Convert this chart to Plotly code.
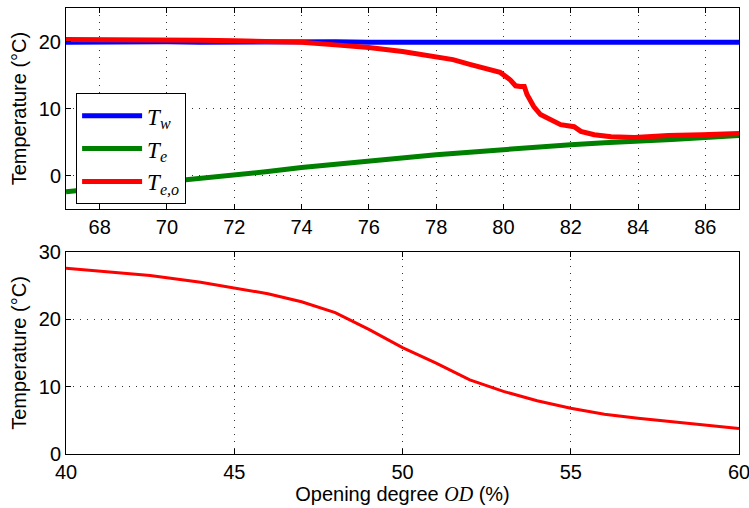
import plotly.graph_objects as go
from plotly.subplots import make_subplots

# Top panel data (opening degree vs temperatures)
od_top = [67, 68, 69, 70, 71, 72, 73, 74, 75, 76, 77, 78, 78.5, 79, 79.5, 79.9,
          80.2, 80.36, 80.5, 80.62, 80.7, 80.9, 81.1, 81.4, 81.7, 82.1, 82.3,
          82.7, 83.2, 83.9, 84.9, 85.9, 87]
t_w = [19.9, 19.95, 19.9, 19.95, 19.9, 19.95, 19.9, 19.9, 19.95, 19.9, 19.9, 19.95, 19.9,
       19.9, 19.95, 19.9, 19.9, 19.95, 19.9, 19.9, 19.95, 19.9, 19.9, 19.95, 19.9,
       19.9, 19.95, 19.9, 19.9, 19.95, 19.9, 19.9, 19.9]
t_eo = [20.3, 20.3, 20.3, 20.3, 20.2, 20.1, 20.0, 19.9, 19.5, 19.1, 18.5, 17.8, 17.3,
        16.6, 16.0, 15.4, 14.3, 13.4, 13.3, 13.3, 12.1, 10.3, 9.1, 8.4, 7.6, 7.3,
        6.6, 6.1, 5.8, 5.7, 6.0, 6.1, 6.3]
od_te = [67, 68, 69, 70, 71, 72, 73, 74, 75, 76, 77, 78, 79, 80, 81, 82, 83, 84, 85, 86, 87]
t_e = [-2.4, -1.9, -1.4, -0.9, -0.4, 0.0, 0.6, 1.2, 1.7, 2.2, 2.7, 3.1, 3.5, 3.9,
       4.3, 4.6, 4.9, 5.1, 5.4, 5.7, 6.0]

# Bottom panel data
od_bot = [40, 41, 42.5, 44, 45, 46, 47, 48, 49, 50, 51, 52, 53, 54, 55, 56, 57, 58, 59, 60]
t_bot = [27.6, 27.2, 26.5, 25.5, 24.7, 23.8, 22.6, 21.0, 18.5, 15.8, 13.5, 11.0, 9.3,
         7.9, 6.8, 5.9, 5.3, 4.8, 4.3, 3.8]

top_ticks = [68, 70, 72, 74, 76, 78, 80, 82, 84, 86]
bot_ticks = [40, 45, 50, 55, 60]

fig = make_subplots(rows=2, cols=1)

fig.add_trace(go.Scatter(x=od_top, y=t_w, mode="lines", line=dict(color="#0000FF", width=5),
                         name="<i>T</i><sub><i>w</i></sub>"), row=1, col=1)
fig.add_trace(go.Scatter(x=od_te, y=t_e, mode="lines", line=dict(color="#008000", width=5),
                         name="<i>T</i><sub><i>e</i></sub>"), row=1, col=1)
fig.add_trace(go.Scatter(x=od_top, y=t_eo, mode="lines", line=dict(color="#FF0000", width=5),
                         name="<i>T</i><sub><i>e,o</i></sub>"), row=1, col=1)
fig.add_trace(go.Scatter(x=od_bot, y=t_bot, mode="lines", line=dict(color="#FF0000", width=3),
                         showlegend=False), row=2, col=1)

axis_common = dict(showline=True, linecolor="black", linewidth=1, mirror="ticks",
                   ticks="inside", ticklen=5, tickcolor="black", showgrid=True,
                   gridcolor="#333333", griddash="1px,6px", gridwidth=1, zeroline=False,
                   automargin=False, ticklabeloverflow="allow",
                   tickfont=dict(size=20, color="black"))
ytitle = dict(text="Temperature (°C)", font=dict(size=20, color="black"), standoff=6)

fig.update_xaxes(range=[67, 87], tickvals=top_ticks, domain=[0, 1], row=1, col=1, **axis_common)
fig.update_yaxes(range=[-5, 25], tickvals=[0, 10, 20], domain=[0.549, 1], row=1, col=1,
                 title=ytitle, **axis_common)
fig.update_xaxes(range=[40, 60], tickvals=bot_ticks, domain=[0, 1], row=2, col=1,
                 title=dict(text="Opening degree <span style=\"font-family:'Liberation Serif'\"><i>OD</i></span> (%)",
                            font=dict(size=20, color="black"), standoff=2),
                 **axis_common)
fig.update_yaxes(range=[0, 30], tickvals=[0, 10, 20, 30], domain=[0, 0.453], row=2, col=1,
                 title=ytitle, **axis_common)

fig.update_layout(
    width=749, height=508,
    margin=dict(l=66, r=10, t=8, b=54),
    paper_bgcolor="white", plot_bgcolor="white",
    font=dict(family="Liberation Sans, Arial, sans-serif", color="black"),
    showlegend=True,
    legend=dict(x=0.015, y=0.809, xanchor="left", yanchor="top",
                bgcolor="white", bordercolor="black", borderwidth=1,
                font=dict(family="Liberation Serif", size=23, color="black"),
                tracegroupgap=0, itemwidth=60),
)

fig.write_html("out.html", config={"displayModeBar": False},
               post_script="document.body.style.margin='0px';document.body.style.overflow='hidden';")
